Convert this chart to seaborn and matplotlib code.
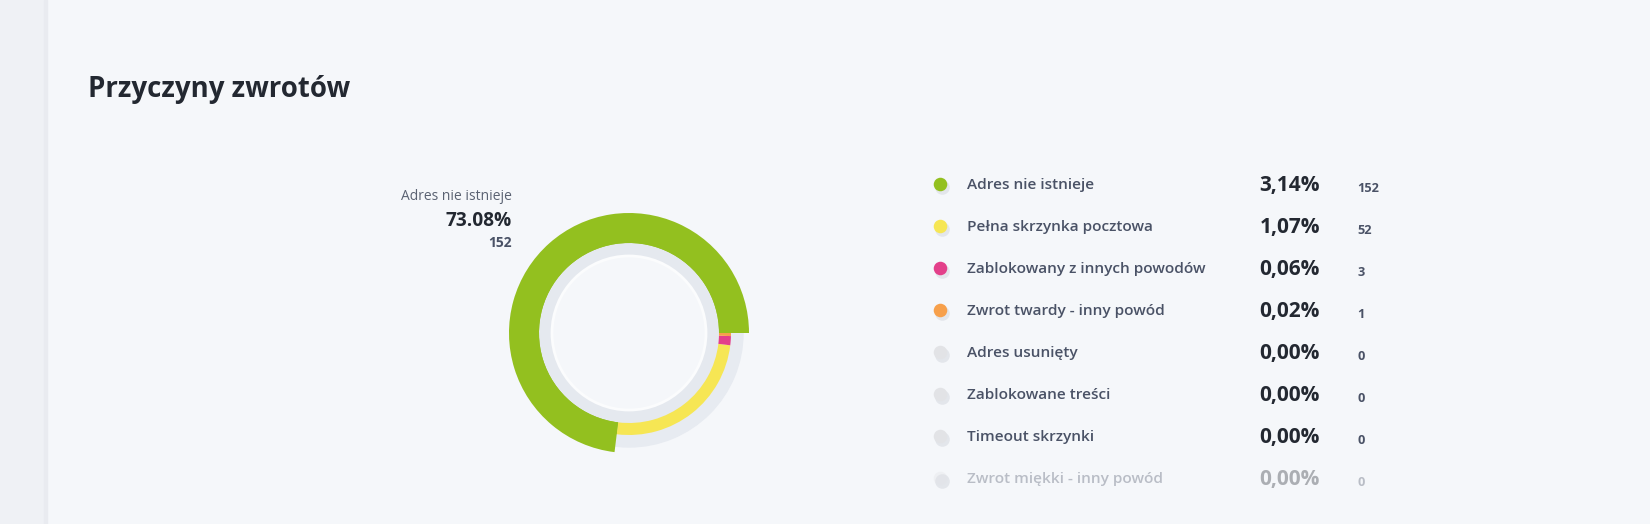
import numpy as np
import matplotlib
matplotlib.use("Agg")
from matplotlib import pyplot as plt
from matplotlib.patches import Circle, Rectangle, Wedge
import seaborn as sns
import pandas as pd

# ---- data ----
reasons = ["Adres nie istnieje", "Pełna skrzynka pocztowa", "Zablokowany z innych powodów",
           "Zwrot twardy - inny powód", "Adres usunięty", "Zablokowane treści",
           "Timeout skrzynki", "Zwrot miękki - inny powód"]
shares = [3.14, 1.07, 0.06, 0.02, 0.00, 0.00, 0.00, 0.00]
counts = [152, 52, 3, 1, 0, 0, 0, 0]
colors = ["#93c01f", "#f6e654", "#e3408a", "#f7a04b",
          "#e2e3e6", "#e2e3e6", "#e2e3e6", "#e2e3e6"]
title = "Przyczyny zwrotów"

BG = "#f5f7fa"
sns.set_theme(style="white")
plt.rcParams["font.family"] = ["Open Sans", "DejaVu Sans"]

fig = plt.figure(figsize=(16.5, 5.24), dpi=100, facecolor=BG)

# overlay in pixel coords
ax = fig.add_axes([0, 0, 1, 1], facecolor=BG)
ax.add_patch(Rectangle((0, 0), 44, 524, color="#eff1f5", zorder=0))
ax.add_patch(Rectangle((44, 0), 3, 524, color="#e9ebf0", zorder=0))

ax.text(88, 90, title, fontsize=19.9, fontweight="bold", color="#232831",
        va="center", ha="left")

# legend rows
df = pd.DataFrame({"reason": reasons, "share": shares, "count": counts})
df["y"] = 184 + 42 * np.arange(len(df))
df["x"] = 940
df["alpha"] = [1, 1, 1, 1, 1, 1, 1, 0.35]

sns.scatterplot(data=df, x=df["x"] + 2, y=df["y"] + 3, color="#c9cdd5", alpha=0.4,
                s=110, linewidth=0, legend=False, ax=ax, zorder=2)
for i, row in df.iterrows():
    a = row["alpha"]
    sns.scatterplot(x=[row["x"]], y=[row["y"]], color=colors[i], s=95, linewidth=0,
                    alpha=a, legend=False, ax=ax, zorder=3)
    ax.text(967, row["y"] + 1, row["reason"], fontsize=11.1, fontweight="semibold",
            color="#4a5266", alpha=a, va="center", ha="left")
    ax.text(1320, row["y"] + 1, f"{row['share']:.2f}%".replace(".", ","), fontsize=15,
            fontweight="bold", color="#232831", alpha=a, va="center", ha="right")
    ax.text(1357, row["y"] + 4, str(row["count"]), fontsize=9.2, fontweight="bold",
            color="#4a5266", alpha=a, va="center", ha="left")
ax.set_xlim(0, 1650)
ax.set_ylim(524, 0)
ax.axis("off")

# donut label
total = sum(counts)
ax.text(512, 197, reasons[0], fontsize=10, color="#5a6272", ha="right", va="center")
ax.text(512, 221, f"{counts[0] / total * 100:.2f}%", fontsize=13.8, fontweight="bold",
        color="#232831", ha="right", va="center")
ax.text(512, 243, str(counts[0]), fontsize=10, fontweight="bold", color="#4a5266",
        ha="right", va="center")

# donut
cx, cy, half = 629, 333, 150
dax = fig.add_axes([(cx - half) / 1650, (524 - cy - half) / 524, 2 * half / 1650, 2 * half / 524])
dax.set_facecolor("none")
dax.add_patch(Wedge((0, 0), 114, 0, 360, width=13, color="#e7ebf1", zorder=0))
dax.add_patch(Wedge((0, 0), 91, 0, 360, width=14, color="#e5e9ef", zorder=0))
dax.add_patch(Circle((0, 0), 77, facecolor=BG, edgecolor="#fbfcfd", lw=2, zorder=1))

vals = [c for c in counts if c > 0]
cols = colors[:len(vals)]
dax.pie(vals, radius=102, colors=cols, startangle=0, counterclock=True,
        wedgeprops=dict(width=12, linewidth=0))
dax.pie(vals, radius=120, colors=[cols[0]] + ["none"] * (len(vals) - 1), startangle=0,
        counterclock=True, wedgeprops=dict(width=30, linewidth=0))
dax.set_xlim(-half, half)
dax.set_ylim(-half, half)
dax.axis("off")

fig.savefig("out.png", dpi=100, facecolor=BG)
